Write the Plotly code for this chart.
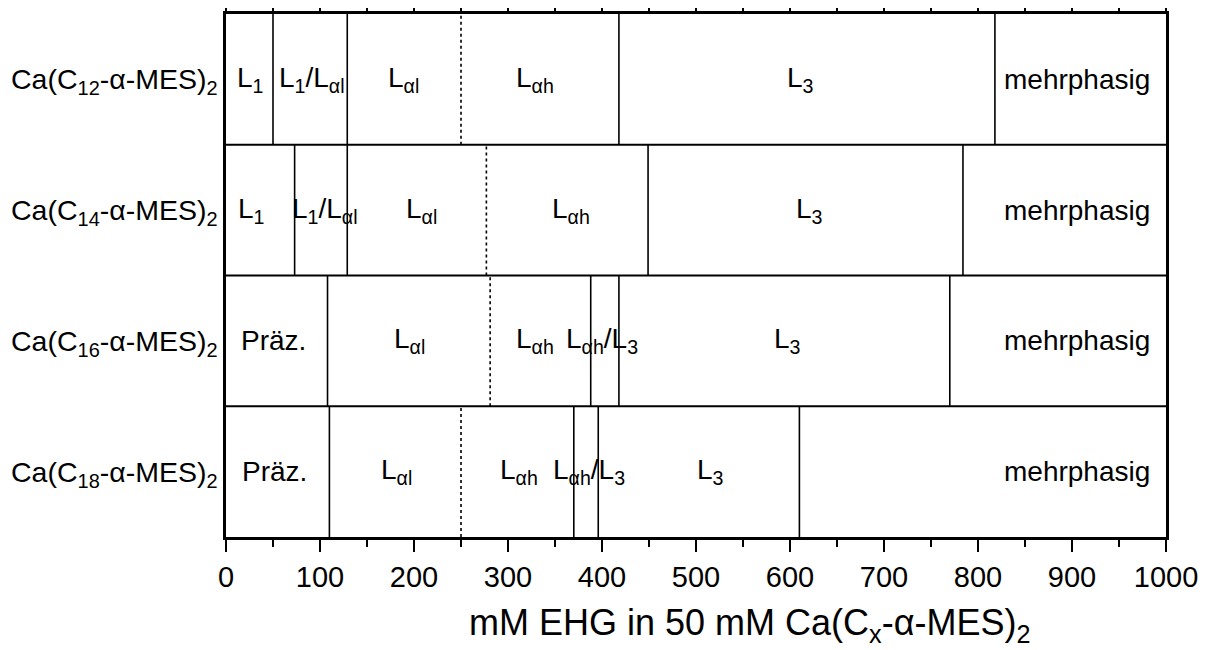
import plotly.graph_objects as go

# ---------------- data ----------------
row_labels = [
    "Ca(C<sub>12</sub>-α-MES)<sub>2</sub>",
    "Ca(C<sub>14</sub>-α-MES)<sub>2</sub>",
    "Ca(C<sub>16</sub>-α-MES)<sub>2</sub>",
    "Ca(C<sub>18</sub>-α-MES)<sub>2</sub>",
]
# phase boundaries (mM EHG), solid lines
solid_bounds = [
    [50, 129, 418, 818],
    [73, 129, 449, 784],
    [108, 388, 418, 770],
    [110, 370, 396, 610],
]
# dotted boundary Lαl / Lαh
dotted_bounds = [250, 277, 281, 250]

# phase labels and their x positions
phase_texts = [
    ["L<sub>1</sub>", "L<sub>1</sub>/L<sub>αl</sub>", "L<sub>αl</sub>", "L<sub>αh</sub>", "L<sub>3</sub>", "mehrphasig"],
    ["L<sub>1</sub>", "L<sub>1</sub>/L<sub>αl</sub>", "L<sub>αl</sub>", "L<sub>αh</sub>", "L<sub>3</sub>", "mehrphasig"],
    ["Präz.", "L<sub>αl</sub>", "L<sub>αh</sub>", "L<sub>αh</sub>/L<sub>3</sub>", "L<sub>3</sub>", "mehrphasig"],
    ["Präz.", "L<sub>αl</sub>", "L<sub>αh</sub>", "L<sub>αh</sub>/L<sub>3</sub>", "L<sub>3</sub>", "mehrphasig"],
]
phase_x = [
    [25, 91, 189, 329, 611, 905],
    [27, 105, 208, 367, 621, 905],
    [50, 195, 329, 400, 597, 905],
    [52, 181, 312, 386, 515, 905],
]
x_ticks = list(range(0, 1001, 100))
x_title = "mM EHG in 50 mM Ca(C<sub>x</sub>-α-MES)<sub>2</sub>"

# ---------------- figure ----------------
FONT = "Liberation Sans, Arial, sans-serif"
n = len(row_labels)
fig = go.Figure()

sx, sy, dx, dy = [], [], [], []
for i in range(n):
    y0, y1 = n - 1 - i, n - i
    for v in solid_bounds[i]:
        sx += [v, v, None]
        sy += [y0, y1, None]
    dx += [dotted_bounds[i], dotted_bounds[i], None]
    dy += [y0, y1, None]

fig.add_trace(go.Scatter(x=sx, y=sy, mode="lines", line=dict(color="black", width=1.6),
                         hoverinfo="skip", showlegend=False))
fig.add_trace(go.Scatter(x=dx, y=dy, mode="lines", line=dict(color="black", width=1.6, dash="dot"),
                         hoverinfo="skip", showlegend=False))

# horizontal row separators
hx, hy = [], []
for k in range(1, n):
    hx += [0, 1000, None]
    hy += [k, k, None]
fig.add_trace(go.Scatter(x=hx, y=hy, mode="lines", line=dict(color="black", width=2),
                         hoverinfo="skip", showlegend=False))

for i in range(n):
    yc = n - 1 - i + 0.5
    for t, xv in zip(phase_texts[i], phase_x[i]):
        fig.add_annotation(x=xv, y=yc, text=t, showarrow=False,
                           font=dict(family=FONT, size=28, color="black"),
                           xanchor="center", yanchor="middle")

# x-axis title (placed as annotation, as in the reference it sits right of centre)
fig.add_annotation(xref="paper", yref="paper", x=0.557, y=-0.168, text=x_title,
                   showarrow=False, xanchor="center", yanchor="middle",
                   font=dict(family=FONT, size=36, color="black"))

fig.update_xaxes(range=[0, 1000], tickvals=x_ticks, ticks="outside", ticklen=12, tickwidth=1.5,
                 tickcolor="black", showline=True, linecolor="black", linewidth=2.5, mirror="ticks",
                 showgrid=False, zeroline=False, automargin=False,
                 minor=dict(dtick=50, ticks="outside", ticklen=7, tickwidth=1.5, tickcolor="black"),
                 tickfont=dict(family=FONT, size=29, color="black"))
fig.update_yaxes(range=[0, n], tickvals=[n - 1 - i + 0.5 for i in range(n)], ticktext=row_labels,
                 ticks="", showline=True, linecolor="black", linewidth=2.5, mirror=True,
                 showgrid=False, zeroline=False, automargin=False,
                 tickfont=dict(family=FONT, size=28.5, color="black"))

# page body has an 8px margin, so the figure is offset by 8px
fig.update_layout(width=1205, height=642, margin=dict(l=218, r=47, t=6, b=113),
                  plot_bgcolor="white", paper_bgcolor="white", showlegend=False)

fig.write_html("out.html")
